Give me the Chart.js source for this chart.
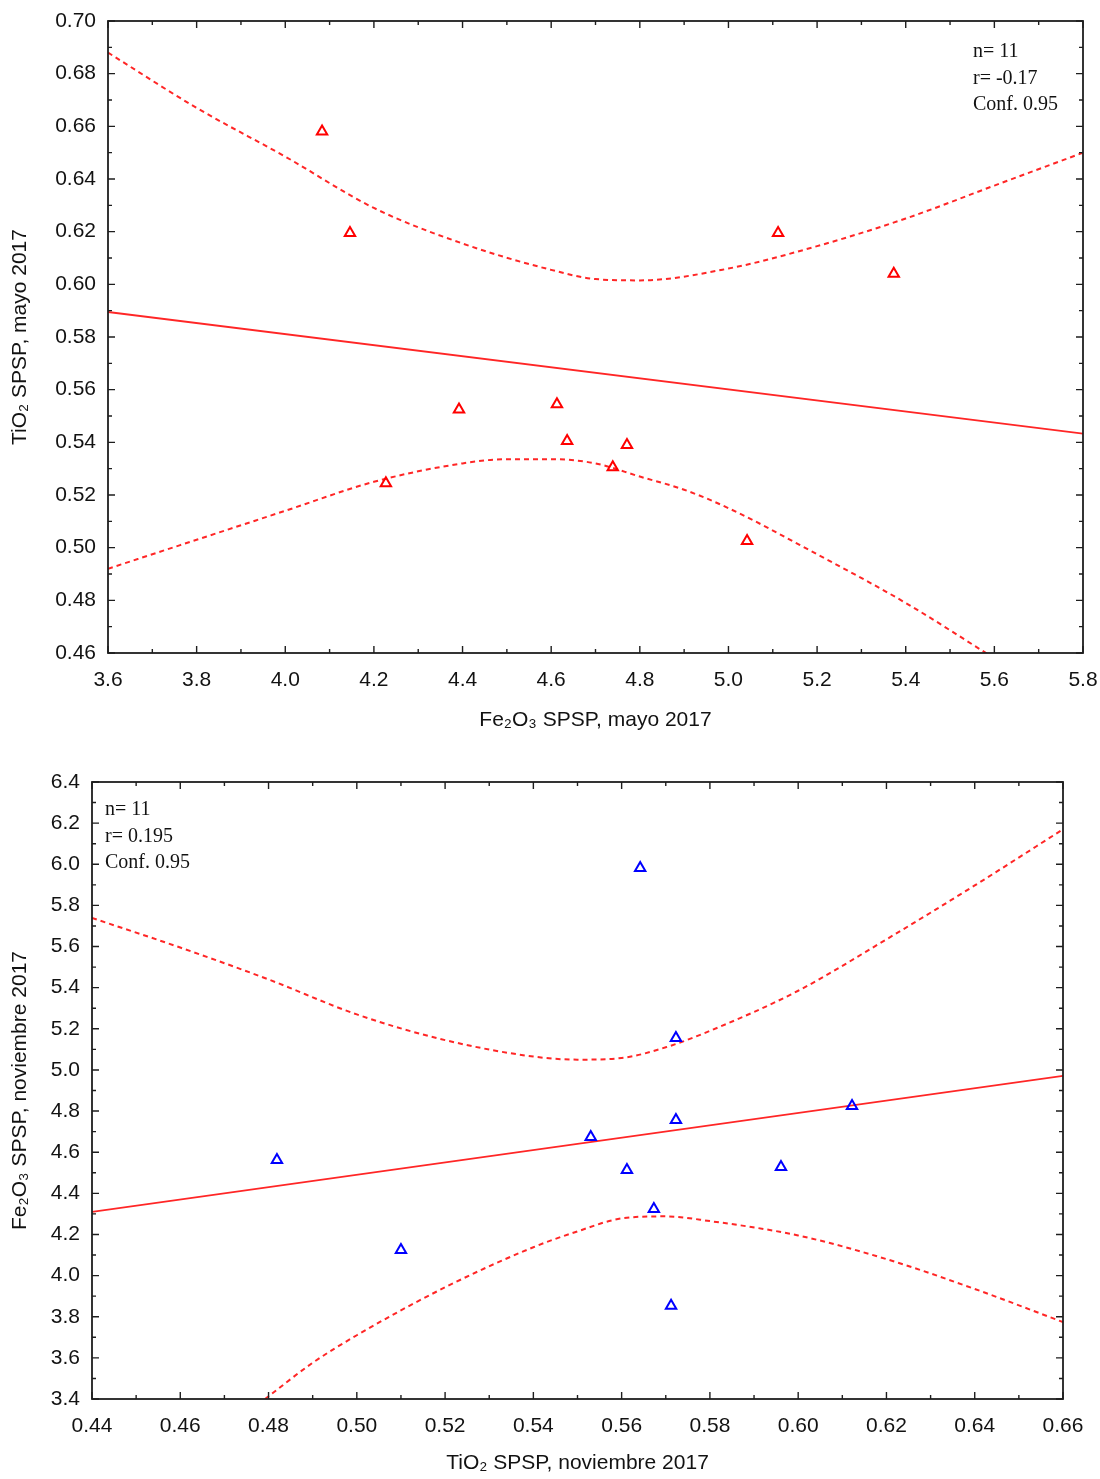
<!DOCTYPE html>
<html>
<head>
<meta charset="utf-8">
<script src="https://cdn.jsdelivr.net/npm/chart.js@4/dist/chart.umd.min.js"></script>
<style>
  html, body { margin: 0; padding: 0; background: #ffffff; }
  body { width: 1100px; height: 1479px; position: relative; overflow: hidden; }
  .wrap { position: absolute; left: 0; width: 1100px; }
  #w1 { top: 0; height: 745px; }
  #w2 { top: 745px; height: 734px; }
  canvas { display: block; }
</style>
</head>
<body>
<div class="wrap" id="w1"><canvas id="c1" width="1100" height="745"></canvas></div>
<div class="wrap" id="w2"><canvas id="c2" width="1100" height="734"></canvas></div>
<script>
// ---------- Chart 1: Fe2O3 vs TiO2, mayo 2017 ----------
const xTicks1 = [3.6, 3.8, 4.0, 4.2, 4.4, 4.6, 4.8, 5.0, 5.2, 5.4, 5.6, 5.8];
const xLabels1 = ['3.6', '3.8', '4.0', '4.2', '4.4', '4.6', '4.8', '5.0', '5.2', '5.4', '5.6', '5.8'];
const yTicks1 = [0.46, 0.48, 0.50, 0.52, 0.54, 0.56, 0.58, 0.60, 0.62, 0.64, 0.66, 0.68, 0.70];
const yLabels1 = ['0.46', '0.48', '0.50', '0.52', '0.54', '0.56', '0.58', '0.60', '0.62', '0.64', '0.66', '0.68', '0.70'];
const feMayo = [4.083, 4.146, 4.227, 4.392, 4.613, 4.636, 4.739, 4.771, 5.042, 5.112, 5.373];
const tiMayo = [0.658, 0.6195, 0.5245, 0.5525, 0.5545, 0.5405, 0.5305, 0.539, 0.5025, 0.6195, 0.604];
const fitX1 = [3.6, 5.8];
const fitY1 = [0.5895, 0.5433];
const upX1 = [3.6, 3.8, 4.0, 4.2, 4.4, 4.6, 4.7, 4.8, 5.0, 5.2, 5.4, 5.6, 5.8];
const upY1 = [0.688, 0.667, 0.6485, 0.629, 0.6155, 0.6055, 0.602, 0.6015, 0.606, 0.6145, 0.625, 0.6375, 0.650];
const loX1 = [3.6, 3.8, 4.0, 4.2, 4.4, 4.5, 4.6, 4.7, 4.8, 4.9, 5.0, 5.2, 5.4, 5.6];
const loY1 = [0.492, 0.503, 0.514, 0.525, 0.532, 0.5336, 0.5336, 0.532, 0.527, 0.522, 0.515, 0.4975, 0.479, 0.458];
const stats1 = ['n= 11', 'r= -0.17', 'Conf. 0.95'];
const xTitle1 = 'Fe₂O₃ SPSP, mayo 2017';
const yTitle1 = 'TiO₂ SPSP, mayo 2017';

// ---------- Chart 2: TiO2 vs Fe2O3, noviembre 2017 ----------
const xTicks2 = [0.44, 0.46, 0.48, 0.50, 0.52, 0.54, 0.56, 0.58, 0.60, 0.62, 0.64, 0.66];
const xLabels2 = ['0.44', '0.46', '0.48', '0.50', '0.52', '0.54', '0.56', '0.58', '0.60', '0.62', '0.64', '0.66'];
const yTicks2 = [3.4, 3.6, 3.8, 4.0, 4.2, 4.4, 4.6, 4.8, 5.0, 5.2, 5.4, 5.6, 5.8, 6.0, 6.2, 6.4];
const yLabels2 = ['3.4', '3.6', '3.8', '4.0', '4.2', '4.4', '4.6', '4.8', '5.0', '5.2', '5.4', '5.6', '5.8', '6.0', '6.2', '6.4'];
const tiNov = [0.4819, 0.510, 0.553, 0.5612, 0.5642, 0.5673, 0.5712, 0.5723, 0.5723, 0.5961, 0.6122];
const feNov = [4.562, 4.125, 4.674, 4.514, 5.982, 4.324, 3.853, 5.155, 4.757, 4.528, 4.825];
const fitX2 = [0.44, 0.66];
const fitY2 = [4.31, 4.971];
const upX2 = [0.44, 0.46, 0.48, 0.50, 0.52, 0.54, 0.55, 0.56, 0.57, 0.58, 0.60, 0.62, 0.64, 0.66];
const upY2 = [5.739, 5.595, 5.44, 5.27, 5.145, 5.065, 5.05, 5.058, 5.11, 5.19, 5.385, 5.635, 5.897, 6.17];
const loX2 = [0.4792, 0.49, 0.50, 0.52, 0.54, 0.55, 0.56, 0.57, 0.58, 0.60, 0.62, 0.64, 0.66];
const loY2 = [3.40, 3.576, 3.71, 3.943, 4.138, 4.215, 4.278, 4.288, 4.265, 4.195, 4.08, 3.935, 3.774];
const stats2 = ['n= 11', 'r= 0.195', 'Conf. 0.95'];
const xTitle2 = 'TiO₂ SPSP, noviembre 2017';
const yTitle2 = 'Fe₂O₃ SPSP, noviembre 2017';

const pts = (xs, ys) => xs.map((x, i) => ({ x: x, y: ys[i] }));

const LINE_RED = '#ff2626';
const TEXT = '#121212';

const framePlugin = {
  id: 'frame',
  afterDatasetsDraw(chart, args, opts) {
    const ctx = chart.ctx;
    const { left, right, top, bottom } = chart.chartArea;
    const xs = chart.scales.x, ys = chart.scales.y;
    const xv = xs.ticks.map(t => t.value);
    const yv = ys.ticks.map(t => t.value);
    ctx.save();
    ctx.strokeStyle = '#1e1e1e';
    ctx.lineWidth = 1.8;
    ctx.strokeRect(left, top, right - left, bottom - top);
    ctx.lineWidth = 1.4;
    ctx.beginPath();
    const majorL = 7, minorL = 4;
    xv.forEach((v, i) => {
      const p = xs.getPixelForValue(v);
      ctx.moveTo(p, bottom); ctx.lineTo(p, bottom - majorL);
      ctx.moveTo(p, top); ctx.lineTo(p, top + majorL);
      if (i < xv.length - 1) {
        const m = xs.getPixelForValue((v + xv[i + 1]) / 2);
        ctx.moveTo(m, bottom); ctx.lineTo(m, bottom - minorL);
        ctx.moveTo(m, top); ctx.lineTo(m, top + minorL);
      }
    });
    yv.forEach((v, i) => {
      const p = ys.getPixelForValue(v);
      ctx.moveTo(left, p); ctx.lineTo(left + majorL, p);
      ctx.moveTo(right, p); ctx.lineTo(right - majorL, p);
      if (i < yv.length - 1) {
        const m = ys.getPixelForValue((v + yv[i + 1]) / 2);
        ctx.moveTo(left, m); ctx.lineTo(left + minorL, m);
        ctx.moveTo(right, m); ctx.lineTo(right - minorL, m);
      }
    });
    ctx.stroke();
    ctx.fillStyle = TEXT;
    ctx.font = '20px "Liberation Serif", "Times New Roman", serif';
    ctx.textBaseline = 'alphabetic';
    ctx.textAlign = 'left';
    opts.lines.forEach((s, i) => ctx.fillText(s, opts.x, opts.y + i * 26.5));
    ctx.restore();
  }
};

function zeroPad(s) { s.paddingTop = 0; s.paddingBottom = 0; s.paddingLeft = 0; s.paddingRight = 0; }

function makeChart(id, cfg) {
  const tickFont = { family: 'Liberation Sans, Arial, sans-serif', size: 21 };
  const titleFont = { family: 'Liberation Sans, Arial, sans-serif', size: 21 };
  return new Chart(document.getElementById(id), {
    type: 'scatter',
    data: {
      datasets: [
        {
          type: 'scatter', data: pts(cfg.px, cfg.py), order: 0,
          pointStyle: 'triangle', pointRadius: 6, pointHoverRadius: 6,
          borderColor: cfg.pointColor, backgroundColor: 'rgba(255,255,255,0)', borderWidth: 2
        },
        {
          type: 'line', data: pts(cfg.fx, cfg.fy), order: 1,
          borderColor: LINE_RED, borderWidth: 1.8, pointRadius: 0, fill: false
        },
        {
          type: 'line', data: pts(cfg.ux, cfg.uy), order: 1,
          borderColor: LINE_RED, borderWidth: 2, borderDash: [5, 4], pointRadius: 0,
          cubicInterpolationMode: 'monotone', fill: false
        },
        {
          type: 'line', data: pts(cfg.lx, cfg.ly), order: 1,
          borderColor: LINE_RED, borderWidth: 2, borderDash: [5, 4], pointRadius: 0,
          cubicInterpolationMode: 'monotone', fill: false
        }
      ]
    },
    options: {
      responsive: false,
      devicePixelRatio: 1,
      animation: false,
      events: [],
      layout: { autoPadding: false, padding: { left: 0, top: cfg.padTop, right: cfg.padRight, bottom: 0 } },
      plugins: {
        legend: { display: false },
        tooltip: { enabled: false },
        frame: { lines: cfg.stats, x: cfg.statX, y: cfg.statY }
      },
      scales: {
        x: {
          type: 'linear', position: 'bottom',
          min: cfg.xTicks[0], max: cfg.xTicks[cfg.xTicks.length - 1],
          afterBuildTicks: s => { s.ticks = cfg.xTicks.map(v => ({ value: v })); },
          afterFit: s => { s.height = cfg.xAxisH; zeroPad(s); },
          grid: { display: false, drawTicks: false },
          border: { display: false },
          ticks: { font: tickFont, color: TEXT, padding: cfg.xTickPad, maxRotation: 0, autoSkip: false,
                   callback: (v, i) => cfg.xLabels[i] },
          title: { display: true, text: cfg.xTitle, font: titleFont, color: TEXT,
                   padding: { top: 0, bottom: cfg.xTitlePadB } }
        },
        y: {
          type: 'linear', position: 'left',
          min: cfg.yTicks[0], max: cfg.yTicks[cfg.yTicks.length - 1],
          afterBuildTicks: s => { s.ticks = cfg.yTicks.map(v => ({ value: v })); },
          afterFit: s => { s.width = cfg.yAxisW; zeroPad(s); },
          grid: { display: false, drawTicks: false },
          border: { display: false },
          ticks: { font: tickFont, color: TEXT, padding: 12, autoSkip: false,
                   callback: (v, i) => cfg.yLabels[i] },
          title: { display: true, text: cfg.yTitle, font: titleFont, color: TEXT,
                   padding: { top: cfg.yTitlePadT, bottom: 0 } }
        }
      }
    },
    plugins: [framePlugin]
  });
}

makeChart('c1', {
  px: feMayo, py: tiMayo, pointColor: '#ff0000',
  fx: fitX1, fy: fitY1, ux: upX1, uy: upY1, lx: loX1, ly: loY1,
  xTicks: xTicks1, xLabels: xLabels1, yTicks: yTicks1, yLabels: yLabels1,
  xTitle: xTitle1, yTitle: yTitle1, stats: stats1, statX: 973, statY: 57,
  padTop: 21, padRight: 17, xAxisH: 92, yAxisW: 108,
  xTickPad: 15, xTitlePadB: 12, yTitlePadT: 8
});

makeChart('c2', {
  px: tiNov, py: feNov, pointColor: '#0000ff',
  fx: fitX2, fy: fitY2, ux: upX2, uy: upY2, lx: loX2, ly: loY2,
  xTicks: xTicks2, xLabels: xLabels2, yTicks: yTicks2, yLabels: yLabels2,
  xTitle: xTitle2, yTitle: yTitle2, stats: stats2, statX: 105, statY: 70,
  padTop: 37, padRight: 37, xAxisH: 80, yAxisW: 92,
  xTickPad: 15, xTitlePadB: 3, yTitlePadT: 8
});
</script>
</body>
</html>
